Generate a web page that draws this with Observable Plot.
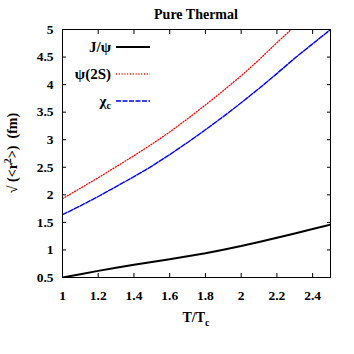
<!DOCTYPE html>
<html><head><meta charset="utf-8">
<script src="https://cdn.jsdelivr.net/npm/d3@7"></script>
<script src="https://cdn.jsdelivr.net/npm/@observablehq/plot@0.6"></script>
<style>body{margin:0;background:#fff}</style>
</head><body><div id="chart"></div>
<script>
const title = "Pure Thermal";
const seriesNames = ["J/ψ", "ψ(2S)", "χc"];
const seriesColors = ["#000000", "#ff0000", "#0000ff"];
const tJpsi = [1.0,1.1,1.2,1.3,1.4,1.5,1.6,1.7,1.8,1.9,2.0,2.1,2.2,2.3,2.4,2.5];
const rJpsi = [0.50,0.56,0.62,0.675,0.73,0.78,0.83,0.885,0.94,1.005,1.07,1.145,1.22,1.30,1.38,1.46];
const tPsi2S = [1.0,1.1,1.2,1.3,1.4,1.5,1.6,1.7,1.8,1.9,2.0,2.1,2.2,2.28];
const rPsi2S = [1.93,2.12,2.31,2.51,2.71,2.92,3.14,3.38,3.63,3.89,4.16,4.45,4.76,5.0];
const tChic = [1.0,1.1,1.2,1.3,1.4,1.5,1.6,1.7,1.8,1.9,2.0,2.1,2.2,2.3,2.4,2.5];
const rChic = [1.64,1.80,1.97,2.15,2.33,2.52,2.73,2.95,3.18,3.42,3.67,3.93,4.20,4.48,4.74,5.0];
const xTicks = [1,1.2,1.4,1.6,1.8,2,2.2,2.4];
const yTicks = [0.5,1,1.5,2,2.5,3,3.5,4,4.5,5];

const FONT = "'Liberation Serif','Times New Roman',serif";
const rows = (ts, rs) => ts.map((t,i)=>({t, r: rs[i]}));
const jpsiData = rows(tJpsi, rJpsi);
const psiData = rows(tPsi2S, rPsi2S);
const chiData = rows(tChic, rChic);
const dashes = [null, "1,1.8", "5,1.5"];
const widths = [2, 1.3, 1.4];

function legendMark() {
  return (index, scales, values, dims) => {
    const g = d3.create("svg:g").attr("font-family", FONT).attr("font-weight","bold").attr("font-size", 15);
    seriesNames.forEach((name, i) => {
      const y = dims.marginTop + 18 + i * 27;
      const tx = g.append("text").attr("x", dims.marginLeft + 49).attr("y", y).attr("dy", "0.35em").attr("text-anchor", "end");
      if (name === "χc") {
        tx.append("tspan").text("χ");
        tx.append("tspan").attr("font-size", 10).attr("dy", "0.3em").text("c");
      } else tx.text(name);
      const ln = g.append("line").attr("x1", dims.marginLeft + 54).attr("x2", dims.marginLeft + 88)
        .attr("y1", y).attr("y2", y).attr("stroke", seriesColors[i]).attr("stroke-width", widths[i]);
      if (dashes[i]) ln.attr("stroke-dasharray", dashes[i]);
    });
    return g.node();
  };
}

function labelsMark() {
  return (index, scales, values, dims) => {
    const g = d3.create("svg:g").attr("font-family", FONT).attr("font-weight","bold").attr("font-size", 14).attr("fill","black");
    const cx = dims.marginLeft + (dims.width - dims.marginLeft - dims.marginRight) / 2;
    const cy = dims.marginTop + (dims.height - dims.marginTop - dims.marginBottom) / 2;
    g.append("text").attr("x", cx).attr("y", 14).attr("dy","0.35em").attr("font-size", 14).attr("text-anchor","middle").text(title);
    const xl = g.append("text").attr("x", cx).attr("y", dims.height - 32).attr("text-anchor","middle");
    xl.append("tspan").text("T/T");
    xl.append("tspan").attr("font-size", 10).attr("dy", "0.35em").text("c");
    const yl = g.append("text").attr("transform", `translate(17,${cy}) rotate(-90)`).attr("text-anchor","middle");
    yl.append("tspan").text("√ (<r");
    yl.append("tspan").attr("font-size", 10).attr("dy", "-0.6em").text("2");
    yl.append("tspan").attr("dy", "0.45em").text(">)  (fm)");
    return g.node();
  };
}

const chart = Plot.plot({
  width: 354, height: 354,
  marginLeft: 62, marginRight: 24, marginTop: 29, marginBottom: 77,
  style: {fontFamily: FONT, fontWeight: "bold", fontSize: "13px", color: "black", background: "white"},
  x: {domain: [1, 2.5]},
  y: {domain: [0.5, 5]},
  marks: [
    Plot.axisX(xTicks, {anchor: "bottom", tickSize: 0, tickPadding: 13, tickFormat: d => String(d), label: null, fontSize: 13.5}),
    Plot.axisY(yTicks, {anchor: "left", tickSize: 0, tickPadding: 9, tickFormat: d => String(d), label: null, fontSize: 13.5}),
    Plot.axisX(xTicks, {anchor: "bottom", tickSize: -4, text: null, label: null}),
    Plot.axisX(xTicks, {anchor: "top", tickSize: -4, text: null, label: null}),
    Plot.axisY(yTicks, {anchor: "left", tickSize: -4, text: null, label: null}),
    Plot.axisY(yTicks, {anchor: "right", tickSize: -4, text: null, label: null}),
    Plot.line(jpsiData, {x: "t", y: "r", stroke: seriesColors[0], strokeWidth: widths[0], clip: true}),
    Plot.line(psiData, {x: "t", y: "r", stroke: seriesColors[1], strokeWidth: widths[1], strokeDasharray: dashes[1], clip: true}),
    Plot.line(chiData, {x: "t", y: "r", stroke: seriesColors[2], strokeWidth: widths[2], strokeDasharray: dashes[2], clip: true}),
    Plot.frame({stroke: "black", strokeWidth: 1}),
    legendMark(),
    labelsMark()
  ]
});
document.getElementById("chart").append(chart);
</script>
</body></html>
